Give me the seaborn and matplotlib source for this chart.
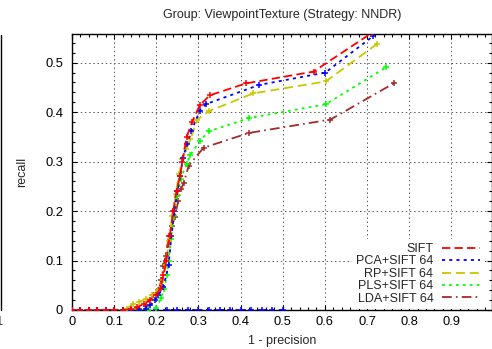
import numpy as np
import pandas as pd
import matplotlib
matplotlib.use("Agg")
import matplotlib.pyplot as plt
from matplotlib.lines import Line2D
from matplotlib.ticker import MultipleLocator, FuncFormatter
import seaborn as sns

# ---------------- data ----------------
zeros_x = [0.0, 0.02, 0.04, 0.06, 0.08, 0.10, 0.12]

sift_x = zeros_x + [0.14, 0.155, 0.17, 0.185, 0.20, 0.21, 0.217, 0.224, 0.232, 0.24, 0.248,
                    0.256, 0.262, 0.272, 0.285, 0.303, 0.327, 0.412, 0.573, 0.711]
sift_y = [0] * 7 + [0.002, 0.006, 0.012, 0.02, 0.03, 0.045, 0.07, 0.10, 0.15, 0.20, 0.24,
                    0.27, 0.30, 0.35, 0.38, 0.414, 0.434, 0.458, 0.482, 0.56]

pca_x = zeros_x + [0.14, 0.16, 0.175, 0.186, 0.197, 0.205, 0.217, 0.229, 0.236, 0.243, 0.25,
                   0.257, 0.263, 0.273, 0.283, 0.303, 0.317, 0.444, 0.601, 0.715]
pca_y = [0] * 7 + [0.0, 0.001, 0.003, 0.01, 0.02, 0.03, 0.047, 0.09, 0.15, 0.20, 0.24,
                   0.27, 0.308, 0.335, 0.362, 0.402, 0.416, 0.455, 0.480, 0.554]

pca_zero_x = [0.2, 0.225, 0.25, 0.275, 0.3, 0.325, 0.35, 0.375, 0.4, 0.425, 0.45, 0.475, 0.5]
pca_zero_y = [0] * 13

rp_x = zeros_x + [0.13, 0.145, 0.16, 0.175, 0.19, 0.205, 0.215, 0.222, 0.23, 0.238, 0.246,
                  0.254, 0.262, 0.271, 0.281, 0.297, 0.325, 0.43, 0.602, 0.724]
rp_y = [0] * 7 + [0.003, 0.012, 0.017, 0.022, 0.03, 0.04, 0.06, 0.09, 0.14, 0.19, 0.235,
                  0.275, 0.305, 0.325, 0.345, 0.385, 0.402, 0.438, 0.462, 0.538]

pls_x = zeros_x + [0.14, 0.16, 0.18, 0.2, 0.211, 0.219, 0.225, 0.229, 0.235, 0.241, 0.249,
                   0.258, 0.272, 0.281, 0.303, 0.324, 0.42, 0.602, 0.746]
pls_y = [0] * 7 + [0.0, 0.0, 0.0, 0.005, 0.024, 0.043, 0.071, 0.10, 0.143, 0.19, 0.23,
                   0.265, 0.296, 0.314, 0.341, 0.361, 0.388, 0.416, 0.491]

lda_x = zeros_x + [0.14, 0.16, 0.175, 0.193, 0.205, 0.212, 0.217, 0.222, 0.23, 0.237, 0.244,
                   0.252, 0.259, 0.265, 0.277, 0.312, 0.42, 0.613, 0.765]
lda_y = [0] * 7 + [0.0, 0.002, 0.008, 0.03, 0.04, 0.06, 0.088, 0.11, 0.15, 0.17, 0.189,
                   0.22, 0.245, 0.257, 0.292, 0.328, 0.358, 0.385, 0.459]

labels = ["SIFT", "PCA+SIFT 64", "RP+SIFT 64", "PLS+SIFT 64", "LDA+SIFT 64"]
colors = ["#ff0000", "#0000ff", "#c8c800", "#00ff00", "#a52a2a"]
dashes = [(0, (6, 3)), (0, (2.2, 3)), (0, (6.5, 3.5)), (0, (2, 3)), (0, (7, 3, 1.2, 3))]

x_ticks = [0, 0.1, 0.2, 0.3, 0.4, 0.5, 0.6, 0.7, 0.8, 0.9]
y_ticks = [0, 0.1, 0.2, 0.3, 0.4, 0.5]

# ---------------- style ----------------
sns.set_theme(style="ticks")
plt.rcParams["font.family"] = ["Liberation Sans", "DejaVu Sans"]
plt.rcParams["lines.scale_dashes"] = False

fig = plt.figure(figsize=(4.92, 3.49), dpi=100)
ax = fig.add_axes([72 / 492, 39 / 349, 419.5 / 492, 276 / 349])

series = [(sift_x, sift_y), (pca_x, pca_y), (rp_x, rp_y), (pls_x, pls_y), (lda_x, lda_y)]

# blue segment lying on zero
df0 = pd.DataFrame({"x": pca_zero_x, "y": pca_zero_y})
sns.lineplot(data=df0, x="x", y="y", ax=ax, color="#0000ff", lw=1.3, estimator=None,
             marker="+", markersize=4.5, markeredgewidth=1.1, markeredgecolor="#0000ff",
             sort=False, zorder=3)
ax.lines[-1].set_linestyle(dashes[1])

for (xs, ys), lab, c, d in zip(series[::-1], labels[::-1], colors[::-1], dashes[::-1]):
    df = pd.DataFrame({"x": xs, "y": ys})
    sns.lineplot(data=df, x="x", y="y", ax=ax, color=c, lw=1.3, estimator=None,
                 marker="+", markersize=4.5, markeredgewidth=1.1, markeredgecolor=c,
                 sort=False, zorder=3)
    ax.lines[-1].set_linestyle(d)

ax.set_xlim(0, 0.9953)
ax.set_ylim(0, 0.558)
ax.set_xticks(x_ticks)
ax.set_yticks(y_ticks)
fmt = FuncFormatter(lambda v, p: f"{v:g}")
ax.xaxis.set_major_formatter(fmt)
ax.yaxis.set_major_formatter(fmt)
ax.xaxis.set_minor_locator(MultipleLocator(0.02))
ax.yaxis.set_minor_locator(MultipleLocator(0.02))
ax.tick_params(which="both", direction="in", top=True, right=True, colors="black",
               labelsize=9.3, width=0.8)
ax.tick_params(which="major", length=3.5)
ax.tick_params(which="minor", length=2)
ax.tick_params(axis="y", pad=6.3)
ax.tick_params(axis="x", pad=4.3)
for s in ax.spines.values():
    s.set_visible(True)
    s.set_color("black")
    s.set_linewidth(1.0)

ax.grid(True, which="major", color="#555555", linestyle=(0, (1, 2)), linewidth=0.7)
ax.set_axisbelow(True)

ax.set_xlabel("1 - precision", fontsize=9, va="center")
ax.xaxis.set_label_coords(0.5, (310 - 341) / 276)
ax.set_ylabel("recall", fontsize=9, va="center")
ax.yaxis.set_label_coords((22 - 72) / 419.5, 0.5)

fig.text(282 / 492, 1 - 15 / 349, "Group: ViewpointTexture (Strategy: NNDR)",
         ha="center", va="center", fontsize=9)

handles = [Line2D([], [], color=c, lw=1.3, linestyle=d) for c, d in zip(colors, dashes)]
leg = ax.legend(handles, labels, loc="lower right", markerfirst=False,
                bbox_to_anchor=(484 / 492, (349 - 309) / 349), bbox_transform=fig.transFigure,
                fontsize=9, frameon=True, fancybox=False, framealpha=1, facecolor="white",
                edgecolor="none", borderpad=0.35, labelspacing=0.03, handlelength=3.0,
                handletextpad=0.7, borderaxespad=0)
leg.set_zorder(5)

# fragment of neighbouring panel at the left edge
fig.add_artist(Line2D([1 / 492, 1 / 492], [(349 - 310) / 349, (349 - 35) / 349],
                      color="black", lw=1.0, transform=fig.transFigure))
fig.text(0 / 492, (349 - 322) / 349, "1", ha="center", va="center", fontsize=9.3)

fig.savefig("out.png", dpi=100)
